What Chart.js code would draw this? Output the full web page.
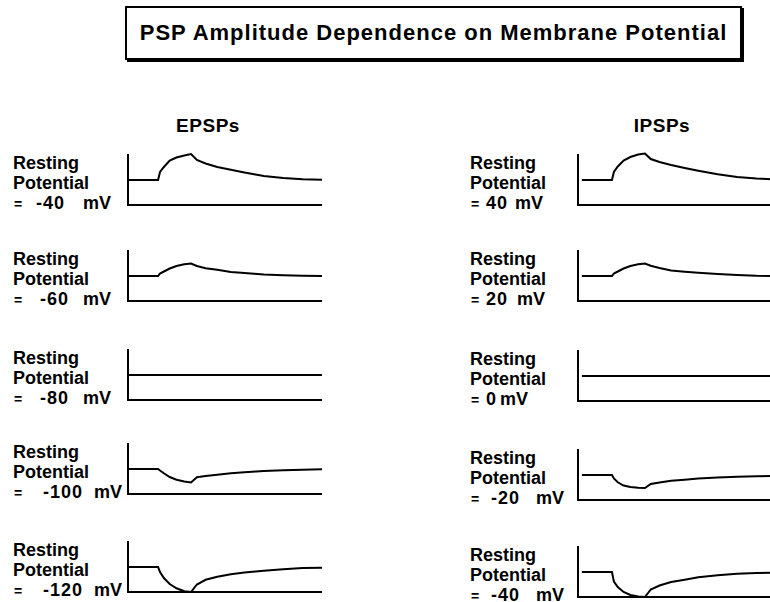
<!DOCTYPE html>
<html>
<head>
<meta charset="utf-8">
<script src="https://cdn.jsdelivr.net/npm/chart.js@4.4.1/dist/chart.umd.min.js"></script>
<style>
  html, body { margin: 0; padding: 0; background: #fff; overflow: hidden; }
  body { width: 770px; height: 602px; position: relative; font-family: "Liberation Sans", Arial, sans-serif; color: #000; }
  .title { position: absolute; left: 125px; top: 6px; width: 617px; height: 54px; border: 2px solid #000; box-shadow: 2px 2px 0 #000; box-sizing: border-box; text-align: center; line-height: 50px; font-size: 22px; font-weight: bold; letter-spacing: 1px; }
  .head { position: absolute; width: 120px; text-align: center; font-size: 19px; font-weight: bold; line-height: 20px; letter-spacing: 0.5px; }
  .lbl { position: absolute; font-size: 18px; font-weight: bold; line-height: 20px; white-space: pre; }
  .eq { position: absolute; font-size: 14px; font-weight: bold; line-height: 20px; }
  .num { letter-spacing: 1px; }
  canvas { position: absolute; }
</style>
</head>
<body>
<div class="title">PSP Amplitude Dependence on Membrane Potential</div>
<script>
// shared time axis (arbitrary units, 0-100 across each trace)
const times = [0, 15.5, 16.5, 18.5, 21.5, 25, 29, 32.5, 35.5, 40, 46, 53, 60, 70, 80, 90, 100];

// resting potentials for each row
const epspPotentials = ["-40", "-60", "-80", "-100", "-120"];
const ipspPotentials = ["40", "20", "0", "-20", "-40"];

// membrane trace, resting level = 5, lower axis line = 0
const epspM40 = [5, 5, 6.6, 7.6, 8.9, 9.5, 9.9, 10.2, 9.0, 8.3, 7.6, 7.05, 6.5, 5.8, 5.4, 5.15, 5.05];
const epspM60 = [5, 5, 5.5, 5.9, 6.5, 7.0, 7.35, 7.5, 7.0, 6.55, 6.25, 5.8, 5.6, 5.3, 5.15, 5.05, 5.0];
const epspM80 = [5, 5, 5, 5, 5, 5, 5, 5, 5, 5, 5, 5, 5, 5, 5, 5, 5];
const epspM100 = [5, 5, 4.7, 4.15, 3.4, 2.85, 2.5, 2.3, 3.35, 3.6, 3.85, 4.15, 4.35, 4.6, 4.75, 4.85, 4.95];
const epspM120 = [5, 5, 4.0, 2.8, 1.6, 0.75, 0.15, 0, 1.5, 2.45, 3.05, 3.55, 3.9, 4.25, 4.55, 4.8, 4.85];

const ipspP40 = [5, 5, 6.6, 7.7, 8.9, 9.6, 10.1, 10.3, 9.2, 8.6, 8.0, 7.4, 6.85, 6.15, 5.6, 5.3, 5.1];
const ipspP20 = [5, 5, 5.5, 5.9, 6.5, 7.0, 7.35, 7.5, 7.05, 6.6, 6.1, 5.85, 5.65, 5.4, 5.2, 5.05, 5.0];
const ipspZero = [5, 5, 5, 5, 5, 5, 5, 5, 5, 5, 5, 5, 5, 5, 5, 5, 5];
const ipspM20 = [5, 5, 4.3, 3.55, 2.9, 2.6, 2.45, 2.4, 3.2, 3.5, 3.85, 4.05, 4.3, 4.5, 4.65, 4.75, 4.8];
const ipspM40 = [5, 5, 3.1, 2.0, 1.0, 0.4, 0.08, 0, 1.5, 2.3, 3.0, 3.45, 3.95, 4.35, 4.65, 4.8, 4.85];

const epspTraces = [epspM40, epspM60, epspM80, epspM100, epspM120];
const ipspTraces = [ipspP40, ipspP20, ipspZero, ipspM20, ipspM40];

// page layout
const leftAxisX = 128;
const rightAxisX = 578;
const leftBaselines = [205, 301, 400, 494, 592];
const rightBaselines = [205, 301, 401, 500, 597];
const traceWidth = 194;
const traceHeight = 50;

function addText(cls, text, x, y) {
  const el = document.createElement("div");
  el.className = cls;
  el.textContent = text;
  el.style.left = x + "px";
  el.style.top = y + "px";
  document.body.appendChild(el);
  return el;
}

function drawTrace(axisX, baseline, values, shift) {
  const pad = { left: 4, right: 0, top: 8, bottom: 4 };
  const canvas = document.createElement("canvas");
  canvas.width = traceWidth + pad.left + pad.right;
  canvas.height = traceHeight + pad.top + pad.bottom;
  canvas.style.left = axisX - pad.left + "px";
  canvas.style.top = baseline - traceHeight - pad.top + "px";
  document.body.appendChild(canvas);

  new Chart(canvas, {
    type: "line",
    data: {
      datasets: [
        {
          data: times.map((t, i) => ({ x: t, y: values[i] })),
          borderColor: "#000",
          borderWidth: 2,
          pointRadius: 0,
          tension: 0,
          fill: false,
          clip: false,
        },
      ],
    },
    options: {
      responsive: false,
      animation: false,
      devicePixelRatio: 1,
      events: [],
      layout: { padding: pad },
      plugins: { legend: { display: false }, tooltip: { enabled: false } },
      scales: {
        x: {
          type: "linear",
          min: shift,
          max: 100 + shift,
          grid: { display: false, drawTicks: false },
          ticks: { display: false },
          border: { color: "#000", width: 2 },
        },
        y: {
          min: 0,
          max: 10,
          grid: { display: false, drawTicks: false },
          ticks: { display: false },
          border: { color: "#000", width: 2 },
        },
      },
    },
  });
}

function drawLabel(x, baseline, value, valueX, unitX) {
  const top = baseline - 52;
  addText("lbl", "Resting", x, top);
  addText("lbl", "Potential", x, top + 20);
  addText("eq", "=", x + 1, top + 41);
  addText("lbl num", value, valueX, top + 40);
  addText("lbl", "mV", unitX, top + 40);
}

addText("head", "EPSPs", 208 - 60, 116);
addText("head", "IPSPs", 662 - 60, 116);

const leftValueX = [36, 40, 40, 43, 43];
const leftUnitX = [83, 83, 83, 94, 94];
const rightValueX = [486, 486, 486, 491, 491];
const rightUnitX = [515, 517, 500, 536, 536];

epspTraces.forEach((values, i) => {
  drawTrace(leftAxisX, leftBaselines[i], values, 0);
  drawLabel(13, leftBaselines[i], epspPotentials[i], leftValueX[i], leftUnitX[i]);
});

ipspTraces.forEach((values, i) => {
  drawTrace(rightAxisX, rightBaselines[i], values, -2);
  drawLabel(470, rightBaselines[i], ipspPotentials[i], rightValueX[i], rightUnitX[i]);
});
</script>
</body>
</html>
